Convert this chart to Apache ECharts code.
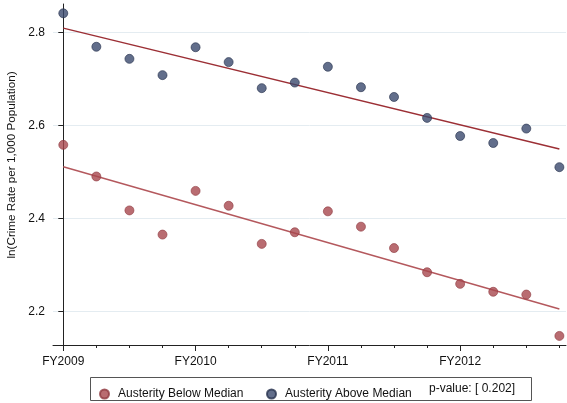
<!DOCTYPE html>
<html>
<head>
<meta charset="utf-8">
<script src="https://cdn.jsdelivr.net/npm/echarts@6/dist/echarts.min.js"></script>
<style>html,body{margin:0;padding:0;background:#fff}#c{width:567px;height:403px}</style>
</head>
<body>
<div id="c"></div>
<script>
// quarters 0..15 starting FY2009
var quarters = [0,1,2,3,4,5,6,7,8,9,10,11,12,13,14,15];
var yearTicks = [0,4,8,12];
var yearLabels = ['FY2009','FY2010','FY2011','FY2012'];
var aboveMedian = [2.841,2.769,2.743,2.708,2.768,2.736,2.680,2.692,2.726,2.682,2.661,2.616,2.577,2.562,2.593,2.510];
var belowMedian = [2.558,2.490,2.417,2.365,2.459,2.427,2.345,2.370,2.415,2.382,2.336,2.284,2.259,2.242,2.236,2.147];
var fitX = [0,15];
var aboveFit = [2.809,2.549];
var belowFit = [2.511,2.205];
var yTicks = [2.2,2.4,2.6,2.8];
var pValueText = 'p-value: [ 0.202]';

function pairs(xs, ys){ return xs.map(function(x,i){return [x, ys[i]];}); }

var font = 'Liberation Sans, Arial, sans-serif';
var chart = echarts.init(document.getElementById('c'), null, {renderer:'canvas'});
var xmin = -0.311, xmax = 15.2;
chart.setOption({
  animation:false,
  backgroundColor:'#fff',
  grid:{left:53, top:4, right:1, bottom:58, containLabel:false, outerBoundsMode:'none'},
  xAxis:[{
    type:'value', min:xmin, max:xmax,
    axisLine:{show:true, onZero:false, lineStyle:{color:'#222', width:1}},
    axisTick:{show:true, length:3, customValues:quarters, lineStyle:{color:'#222'}},
    axisLabel:{show:false},
    splitLine:{show:false}
  },{
    type:'value', min:xmin, max:xmax, position:'bottom',
    axisLine:{show:false},
    axisTick:{show:true, length:6, customValues:yearTicks, lineStyle:{color:'#222'}},
    axisLabel:{show:true, customValues:yearTicks, margin:11, color:'#111', fontSize:12, fontFamily:font,
      formatter:function(v){ var i = yearTicks.indexOf(Math.round(v)); return i>=0 ? yearLabels[i] : ''; }},
    splitLine:{show:false}
  }],
  yAxis:{
    type:'value', min:2.1275, max:2.861,
    name:'ln(Crime Rate per 1,000 Population)', nameLocation:'middle', nameGap:33, nameRotate:90,
    nameTextStyle:{color:'#111', fontSize:11.7, fontFamily:font, padding:[0,0,0,19]},
    axisLine:{show:true, lineStyle:{color:'#222', width:1}},
    axisTick:{show:true, length:5, customValues:yTicks, lineStyle:{color:'#222'}},
    axisLabel:{show:true, customValues:yTicks, margin:8, color:'#111', fontSize:12, fontFamily:font,
      formatter:function(v){ return v.toFixed(1); }},
    splitLine:{show:true, lineStyle:{color:'#e4ecf1', width:1}},
    splitNumber:4
  },
  legend:[{
    left:94, top:383, orient:'horizontal', icon:'circle', itemWidth:9, itemHeight:9, itemGap:0,
    textStyle:{color:'#111', fontSize:12, fontFamily:font, padding:[0,0,0,4]},
    data:[{name:'Austerity Below Median'}]
  },{
    left:261, top:383, orient:'horizontal', icon:'circle', itemWidth:9, itemHeight:9, itemGap:0,
    textStyle:{color:'#111', fontSize:12, fontFamily:font, padding:[0,0,0,4]},
    data:[{name:'Austerity Above Median'}]
  }],
  graphic:[
    {type:'rect', shape:{x:90.5, y:377.5, width:441, height:23}, style:{fill:'none', stroke:'#555', lineWidth:1}, silent:true, z:0},
    {type:'text', x:429, y:389, style:{text:pValueText, fill:'#111', font:'12px ' + font, textVerticalAlign:'middle', verticalAlign:'middle'}, silent:true}
  ],
  series:[
    {name:'Austerity Below Median', type:'scatter', data:pairs(quarters, belowMedian), symbolSize:9,
     itemStyle:{color:'#a8474e', borderColor:'#8f3a40', borderWidth:0.8}, z:3},
    {name:'Austerity Above Median', type:'scatter', data:pairs(quarters, aboveMedian), symbolSize:9,
     itemStyle:{color:'#3b4a6e', borderColor:'#27324d', borderWidth:0.8}, z:3},
    {name:'belowFit', type:'line', data:pairs(fitX, belowFit), showSymbol:false, symbol:'none',
     lineStyle:{color:'#b4585d', width:1.4}, z:2, silent:true},
    {name:'aboveFit', type:'line', data:pairs(fitX, aboveFit), showSymbol:false, symbol:'none',
     lineStyle:{color:'#9c2f35', width:1.4}, z:2, silent:true}
  ]
});
</script>
</body>
</html>
